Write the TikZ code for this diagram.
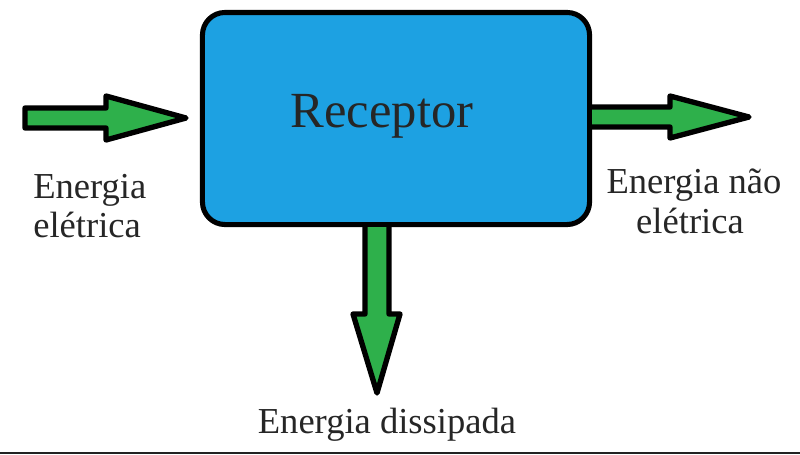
\documentclass[tikz,border=0pt]{standalone}
\usepackage{fontspec}
\setmainfont{Liberation Serif}
\usepackage{tikz}
\usetikzlibrary{positioning}
\definecolor{recblue}{RGB}{29,161,226}
\definecolor{flowgreen}{RGB}{46,176,75}
\definecolor{edgegray}{RGB}{34,34,34}

\tikzset{
  recbox/.style={draw=black, fill=recblue, line width=3.6pt, rounded corners=16pt,
    minimum width=9.675cm, minimum height=5.3cm, inner sep=0pt},
  flowarrow/.style={draw=black, fill=flowgreen, line width=3.8pt, line join=round},
  elabel/.style={font=\fontsize{26}{30}\selectfont, inner sep=0pt, text=black!85}
}

\begin{document}
\begin{tikzpicture}[x=0.025cm, y=-0.025cm]
  \path[use as bounding box] (0,0) rectangle (800,454);
  % pixel units, y downwards

  \node[recbox] (rcpt) at (396,118.5) {};
  \node[font=\fontsize{36}{40}\selectfont, inner sep=0pt, anchor=base, text=black!85]
    (rcptlbl) at (382,127) {Receptor};

  % input arrow
  \draw[flowarrow] (25,108) -- (106,108) -- (106,96) -- (186,118) -- (106,140)
    -- (106,128) -- (25,128) -- cycle;
  % output arrow
  \draw[flowarrow] (rcpt.east |- 0,107) -- (670,107) -- (670,96) -- (749,117)
    -- (670,138) -- (670,127) -- (rcpt.east |- 0,127);
  % dissipated arrow
  \draw[flowarrow] (365,0 |- rcpt.south) -- (365,314) -- (353,314) -- (377,393)
    -- (400,314) -- (389,314) -- (389,0 |- rcpt.south);

  \node[elabel, anchor=base west] (inl1) at (33,198) {Energia};
  \node[elabel, anchor=base west] (inl2) at (33,237) {elétrica};
  \node[elabel, anchor=base] (outl1) at (694,193) {Energia não};
  \node[elabel, anchor=base] (outl2) at (690,233) {elétrica};
  \node[elabel, anchor=base] (disl) at (387,433) {Energia dissipada};

  \fill[edgegray] (0,452) rectangle (800,454);
\end{tikzpicture}
\end{document}
